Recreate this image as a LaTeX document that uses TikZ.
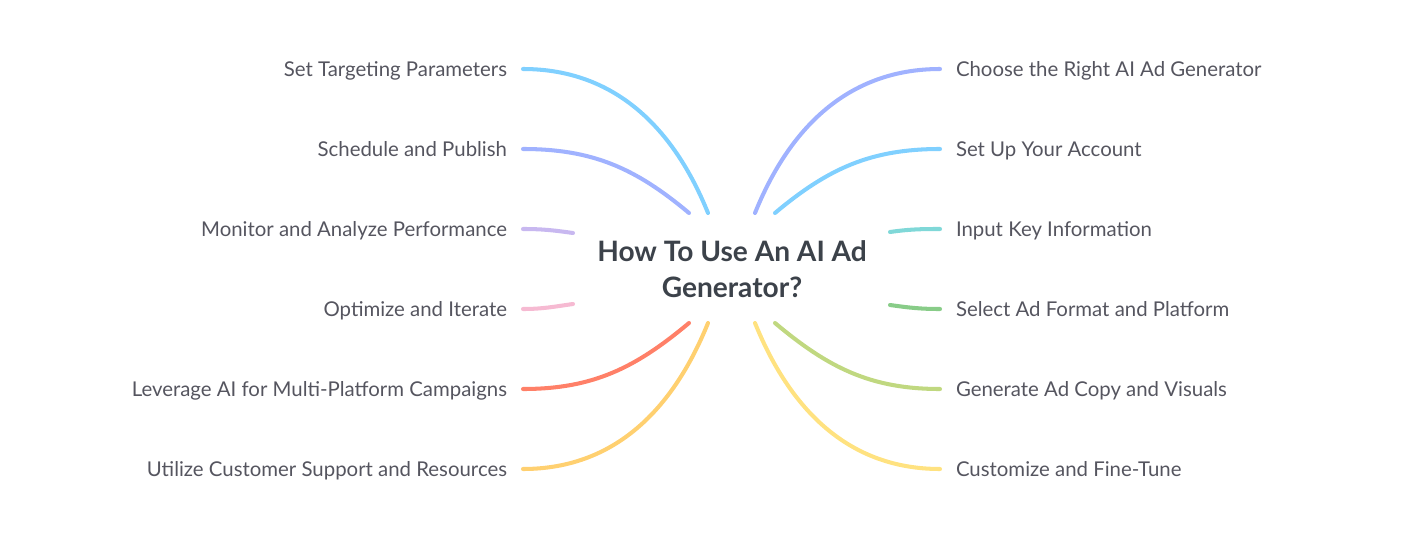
\documentclass[tikz,border=0pt]{standalone}
\usepackage{xcolor}
\usepackage{fontspec}
\setmainfont{Lato}
\usepackage{tikz}

\definecolor{cielo}{RGB}{128,208,255}
\definecolor{lila}{RGB}{160,178,255}
\definecolor{lavanda}{RGB}{200,184,240}
\definecolor{rosa}{RGB}{246,186,210}
\definecolor{coral}{RGB}{255,128,104}
\definecolor{naranja}{RGB}{255,208,112}
\definecolor{turquesa}{RGB}{128,216,216}
\definecolor{verde}{RGB}{136,204,136}
\definecolor{lima}{RGB}{192,216,128}
\definecolor{amarillo}{RGB}{255,226,128}
\definecolor{texto}{RGB}{85,85,95}
\definecolor{titulo}{RGB}{60,66,74}

\begin{document}
\begin{tikzpicture}[x=0.02cm, y=0.02cm,
  rama/.style={line width=2.3pt, line cap=round},
  etiqueta/.style={inner xsep=0.32cm, inner ysep=0pt, outer sep=0pt, text=texto,
    text depth=0pt, font=\fontsize{11.6}{14}\selectfont},
  izq/.style={etiqueta, anchor=east},
  der/.style={etiqueta, anchor=west}]

\useasboundingbox (0,0) rectangle (1424,-551);

% Título central
\node[font=\bfseries\fontsize{16}{20.5}\selectfont, text=titulo, align=center]
  (centro) at (732,-269) {How To Use An AI Ad\\Generator?};

% Etiquetas izquierda
\node[izq] (i1) at (523,-69)  {Set Targeting Parameters};
\node[izq] (i2) at (523,-149) {Schedule and Publish};
\node[izq] (i3) at (523,-229) {Monitor and Analyze Performance};
\node[izq] (i4) at (523,-309) {Optimize and Iterate};
\node[izq] (i5) at (523,-389) {Leverage AI for Multi-Platform Campaigns};
\node[izq] (i6) at (523,-469) {Utilize Customer Support and Resources};

% Etiquetas derecha
\node[der] (d1) at (940,-69)  {Choose the Right AI Ad Generator};
\node[der] (d2) at (940,-149) {Set Up Your Account};
\node[der] (d3) at (940,-229) {Input Key Information};
\node[der] (d4) at (940,-309) {Select Ad Format and Platform};
\node[der] (d5) at (940,-389) {Generate Ad Copy and Visuals};
\node[der] (d6) at (940,-469) {Customize and Fine-Tune};

% Puntos junto al título
\coordinate (pi1) at (708,-213);
\coordinate (pi2) at (689,-213);
\coordinate (pi3) at (573,-233);
\coordinate (pi4) at (573,-304);
\coordinate (pi5) at (689,-323);
\coordinate (pi6) at (708,-323);
\coordinate (pd1) at (755,-213);
\coordinate (pd2) at (775,-213);
\coordinate (pd3) at (890,-232);
\coordinate (pd4) at (890,-305);
\coordinate (pd5) at (775,-323);
\coordinate (pd6) at (755,-323);

% Ramas izquierda
\draw[rama, cielo]   (i1.east) to[out=0, in=112]  (pi1);
\draw[rama, lila]    (i2.east) to[out=0, in=140]  (pi2);
\draw[rama, lavanda] (i3.east) to[out=0, in=172]  (pi3);
\draw[rama, rosa]    (i4.east) to[out=0, in=-172] (pi4);
\draw[rama, coral]   (i5.east) to[out=0, in=-140] (pi5);
\draw[rama, naranja] (i6.east) to[out=0, in=-112] (pi6);

% Ramas derecha
\draw[rama, lila]     (pd1) to[out=68, in=180]  (d1.west);
\draw[rama, cielo]    (pd2) to[out=40, in=180]  (d2.west);
\draw[rama, turquesa] (pd3) to[out=8, in=180]   (d3.west);
\draw[rama, verde]    (pd4) to[out=-8, in=180]  (d4.west);
\draw[rama, lima]     (pd5) to[out=-40, in=180] (d5.west);
\draw[rama, amarillo] (pd6) to[out=-68, in=180] (d6.west);

\end{tikzpicture}
\end{document}
